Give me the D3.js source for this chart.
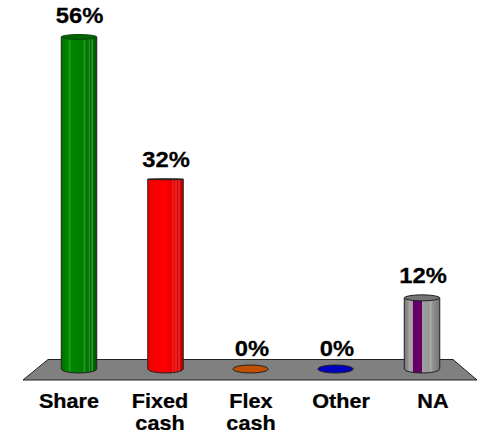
<!DOCTYPE html>
<html><head><meta charset="utf-8">
<script src="https://cdnjs.cloudflare.com/ajax/libs/d3/7.8.5/d3.min.js"></script>
<style>html,body{margin:0;padding:0;background:#fff}svg{display:block}text{font-family:"Liberation Sans",Arial,sans-serif;font-weight:bold;fill:#000;stroke:#000;stroke-width:.25px}</style>
</head><body><svg id="c" width="477" height="433"></svg>
<script>
const categories=[["Share"],["Fixed","cash"],["Flex","cash"],["Other"],["NA"]];
const values=[56,32,0,0,12];
const labels=["56%","32%","0%","0%","12%"];
const colors=["#008000","#ff0000","#c05000","#0000c0","#969696"];
const svg=d3.select("#c");
const W=35.5,RY=4;
const x=d3.scaleOrdinal().domain(d3.range(5)).range([79,165.5,250.5,335.5,422]);
const y=d3.scaleLinear().domain([0,56]).range([369,37]);

svg.append("path").attr("d","M48,359.5L453,359.5L477,380L23,380Z").attr("fill","#808080").attr("stroke","#222").attr("stroke-width",1);

const defs=svg.append("defs");
function shade(c,k){return k>=0?d3.interpolateRgb(c,"#fff")(k):d3.interpolateRgb(c,"#000")(-k);}
const bands=[
 [[0,"#006c00"],[.08,"#007a00"],[.2,"#008c00"],[.24,"#2a9a2a"],[.28,"#008800"],[.6,"#007c00"],[.66,"#2a962a"],[.69,"#007a00"],[.76,"#007400"],[.79,"#2a962a"],[.82,"#006e00"],[.88,"#2e962e"],[.91,"#006600"],[1,"#005400"]],
 [[0,"#f00000"],[.5,"#ff0000"],[.62,"#f00000"],[.68,"#e80000"],[.71,"#f43030"],[.74,"#e00000"],[.8,"#f03030"],[.83,"#d80000"],[.89,"#e83030"],[.92,"#d00000"],[1,"#c00000"]],
 [[0,"#c05000"],[1,"#c05000"]],
 [[0,"#0000c0"],[1,"#0000c0"]],
 [[0,"#7a7a7a"],[.1,"#8e8e8e"],[.14,"#a8a8a8"],[.24,"#a0a0a0"],[.24,"#660066"],[.5,"#660066"],[.5,"#a0a0a0"],[.7,"#989898"],[.74,"#acacac"],[.8,"#929292"],[1,"#747474"]]
];
colors.forEach((c,i)=>{
  const g=defs.append("linearGradient").attr("id","g"+i);
  bands[i].forEach(s=>g.append("stop").attr("offset",s[0]).attr("stop-color",s[1]));
});

const gs=svg.selectAll("g.b").data(values).join("g").attr("class","b");
gs.each(function(v,i){
  const s=d3.select(this),cx=x(i),t=y(v),b=y(0);
  if(v>0){
    s.append("path").attr("d",`M${cx-W/2},${t}L${cx-W/2},${b}A${W/2},${RY} 0 0 0 ${cx+W/2},${b}L${cx+W/2},${t}Z`)
      .attr("fill",`url(#g${i})`).attr("stroke","#222").attr("stroke-width",1);
    s.append("ellipse").attr("cx",cx).attr("cy",t).attr("rx",W/2).attr("ry",i==1?.5:(i==0?2.5:RY-1))
      .attr("fill",shade(colors[i],-.22)).attr("stroke",i==0?"#0a4a0a":"#222").attr("stroke-width",1);
  } else {
    s.append("ellipse").attr("cx",cx).attr("cy",b).attr("rx",W/2).attr("ry",RY)
      .attr("fill",colors[i]).attr("stroke","#222").attr("stroke-width",1);
  }
});
const lx=[79.5,166,252,337,423], ly=[23,167,356,356,283];
svg.selectAll("text.v").data(labels).join("text").attr("class","v")
  .attr("transform",(d,i)=>`translate(${lx[i]},${ly[i]}) scale(1.08,1)`).attr("text-anchor","middle").attr("font-size",22).text(d=>d);
const cx2=[69,160,251,341,433];
categories.forEach((lines,i)=>{
  lines.forEach((t,j)=>svg.append("text").attr("transform",`translate(${cx2[i]},${407.5+j*22.5}) scale(1.11,1)`).attr("text-anchor","middle").attr("font-size",19.5).text(t));
});
</script></body></html>
